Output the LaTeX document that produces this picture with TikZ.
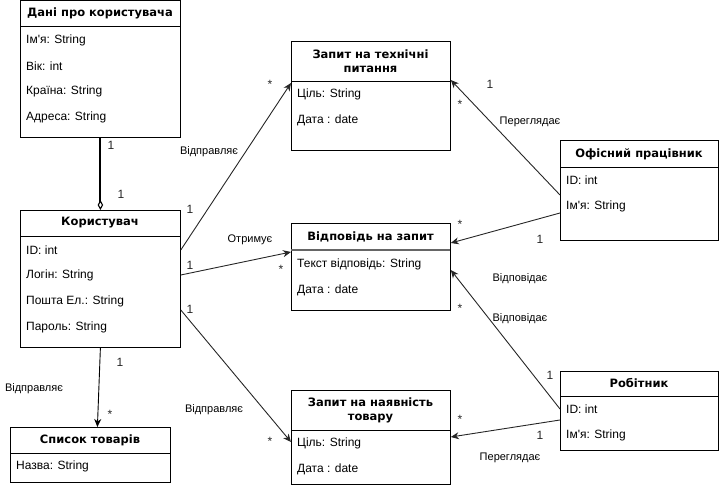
\documentclass[tikz,border=0pt]{standalone}
\usepackage{fontspec}
\setmainfont{Liberation Sans}
\newfontfamily\hdrfont{DejaVu Sans}
\usetikzlibrary{arrows.meta}
\tikzset{
  box/.style={draw=black, line width=0.8pt, anchor=north west, inner sep=0pt, minimum width=160pt},
  sepline/.style={draw=black, line width=0.8pt},
  hdr/.style={font=\hdrfont\bfseries\fontsize{11.5}{14}\selectfont, align=center, inner sep=0pt},
  attr/.style={font=\fontsize{12}{14}\selectfont, anchor=west, inner sep=0pt},
  elabel/.style={font=\fontsize{11}{13}\selectfont, inner sep=0pt},
  mult/.style={font=\fontsize{12}{14}\selectfont, inner sep=0pt, text=black!85},
  rel/.style={draw=black!85, line width=0.9pt, -{Stealth[length=8pt,width=7pt,inset=2.5pt]}},
  agg/.style={draw=black, line width=2pt, -{Diamond[open,length=10pt,width=5.5pt,line width=1.1pt,fill=white]}}
}
\begin{document}
\begin{tikzpicture}[x=1pt,y=-1pt]
\useasboundingbox (0,0) rectangle (721,486);
% ---------- boxes ----------
\node[box, minimum height=137pt] (dani) at (20,0) {};
\draw[sepline] ([yshift=-26pt]dani.north west) -- ([yshift=-26pt]dani.north east);
\node[hdr] (daniT) at (100,13) {Дані про користувача};
\node[attr] (dani1) at (26,40) {Ім\textquotesingle я: String};
\node[attr] (dani2) at (26,66) {Вік: int};
\node[attr] (dani3) at (26,91) {Країна: String};
\node[attr] (dani4) at (26,117) {Адреса: String};

\node[box, minimum height=137pt] (user) at (20,210) {};
\draw[sepline] ([yshift=-26pt]user.north west) -- ([yshift=-26pt]user.north east);
\node[hdr] (userT) at (100,223) {Користувач};
\node[attr] (user1) at (26,250) {ID: int};
\node[attr] (user2) at (26,275) {Логін: String};
\node[attr] (user3) at (26,301) {Пошта Ел.: String};
\node[attr] (user4) at (26,327) {Пароль: String};

\node[box, minimum height=55pt] (list) at (10,427) {};
\draw[sepline] ([yshift=-26pt]list.north west) -- ([yshift=-26pt]list.north east);
\node[hdr] (listT) at (90,440) {Список товарів};
\node[attr] (list1) at (16,466) {Назва: String};

\node[box, minimum width=159pt, minimum height=109pt] (tech) at (291,41) {};
\draw[sepline] ([yshift=-40pt]tech.north west) -- ([yshift=-40pt]tech.north east);
\node[hdr] (techT) at (370.5,61) {Запит на технічні\\питання};
\node[attr] (tech1) at (297,94) {Ціль: String};
\node[attr] (tech2) at (297,120) {Дата : date};

\node[box, minimum width=159pt, minimum height=87pt] (resp) at (291,223) {};
\draw[draw=black!60, line width=1.5pt] ([yshift=-27pt,xshift=0.4pt]resp.north west) -- ([yshift=-27pt,xshift=-0.4pt]resp.north east);
\node[hdr] (respT) at (370.5,237) {Відповідь на запит};
\node[attr] (resp1) at (297,264) {Текст відповідь: String};
\node[attr] (resp2) at (297,290) {Дата : date};

\node[box, minimum width=159pt, minimum height=94pt] (avail) at (291,390) {};
\draw[sepline] ([yshift=-40pt]avail.north west) -- ([yshift=-40pt]avail.north east);
\node[hdr] (availT) at (370.5,410) {Запит на наявність\\товару};
\node[attr] (avail1) at (297,443) {Ціль: String};
\node[attr] (avail2) at (297,469) {Дата : date};

\node[box, minimum width=158pt, minimum height=100pt] (office) at (560,140) {};
\draw[sepline] ([yshift=-27pt]office.north west) -- ([yshift=-27pt]office.north east);
\node[hdr] (officeT) at (639,154) {Офісний працівник};
\node[attr] (office1) at (566,180) {ID: int};
\node[attr] (office2) at (566,206) {Ім\textquotesingle я: String};

\node[box, minimum width=158pt, minimum height=79pt] (worker) at (560,371) {};
\draw[sepline] ([yshift=-25pt]worker.north west) -- ([yshift=-25pt]worker.north east);
\node[hdr] (workerT) at (639,383) {Робітник};
\node[attr] (worker1) at (566,409) {ID: int};
\node[attr] (worker2) at (566,435) {Ім\textquotesingle я: String};

% ---------- connectors ----------
\draw[agg] (dani.south) -- (user.north);
\draw[rel] ([yshift=-40pt]user.north east) -- ([yshift=-42pt]tech.north west);
\draw[rel] ([yshift=-65pt]user.north east) -- ([yshift=-29pt]resp.north west);
\draw[rel] ([yshift=-100pt]user.north east) -- ([yshift=-52pt]avail.north west);
\draw[rel, draw=black] (user.south) -- ([xshift=7pt]list.north);
\draw[rel] ([yshift=-55pt]office.north west) -- ([yshift=-39pt]tech.north east);
\draw[rel] ([yshift=-73pt]office.north west) -- ([yshift=-20pt]resp.north east);
\draw[rel] ([yshift=-38pt]worker.north west) -- ([yshift=-47pt]resp.north east);
\draw[rel] ([yshift=-49pt]worker.north west) -- ([yshift=-47pt]avail.north east);

% ---------- labels ----------
\node[mult] (m1) at (111,145) {1};
\node[mult] (m2) at (121,194) {1};
\node[elabel] (l1) at (209,152) {Відправляє};
\node[mult] (m3) at (190,209) {1};
\node[mult] (m4) at (270,84) {*};
\node[elabel] (l2) at (250,240) {Отримує};
\node[mult] (m5) at (190,265) {1};
\node[mult] (m6) at (281,269) {*};
\node[mult] (m7) at (190,309) {1};
\node[elabel] (l3) at (214,410) {Відправляє};
\node[mult] (m8) at (270,441) {*};
\node[mult] (m9) at (120,362) {1};
\node[elabel] (l4) at (34,389) {Відправляє};
\node[mult] (m10) at (110,414) {*};
\node[mult] (m11) at (490,84) {1};
\node[mult] (m12) at (460,104) {*};
\node[elabel] (l5) at (530,122) {Переглядає};
\node[mult] (m13) at (460,224) {*};
\node[mult] (m14) at (540,239) {1};
\node[elabel] (l6) at (520,279) {Відповідає};
\node[elabel] (l7) at (520,319) {Відповідає};
\node[mult] (m15) at (460,308) {*};
\node[mult] (m16) at (550,375) {1};
\node[mult] (m17) at (460,419) {*};
\node[mult] (m18) at (540,435) {1};
\node[elabel] (l8) at (510,458) {Переглядає};
\end{tikzpicture}
\end{document}
